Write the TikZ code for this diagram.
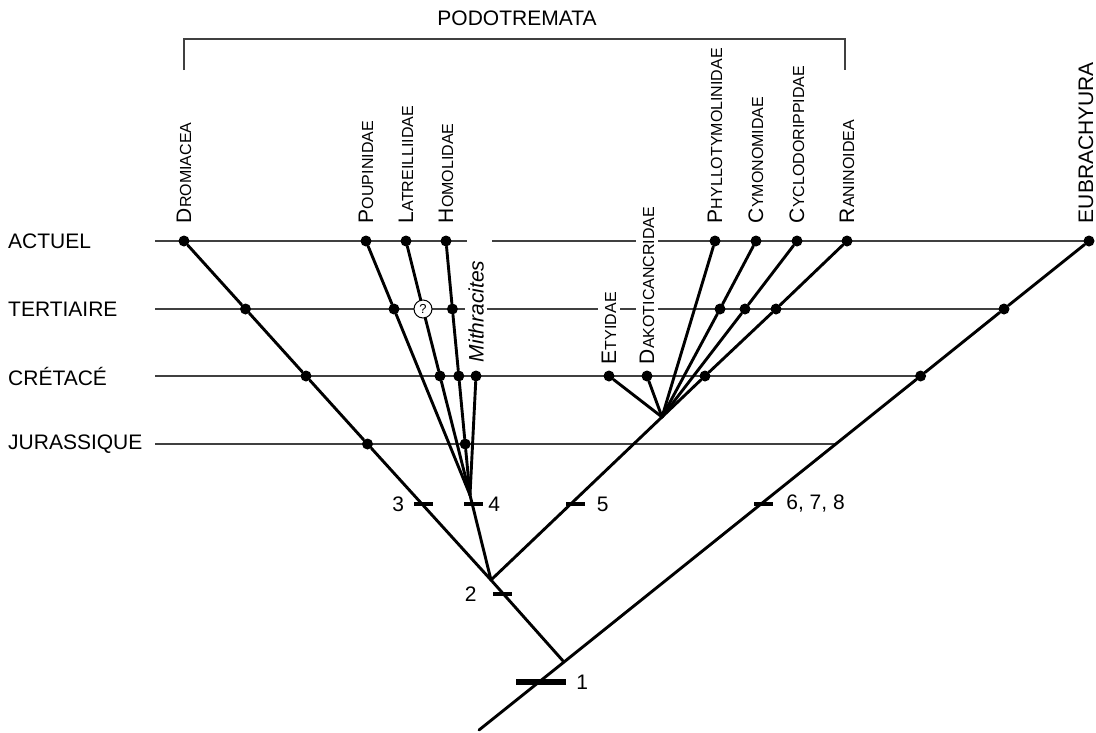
\documentclass[tikz,border=0pt]{standalone}
\usepackage{fontspec}
\setmainfont{Liberation Sans}
\usetikzlibrary{positioning}

% first letter large, the rest as small capitals
\newcommand{\capsc}[2]{{\fontsize{21}{25}\selectfont #1}{\fontsize{16}{19}\selectfont #2}}

\begin{document}
\begin{tikzpicture}[x=1pt,y=-1pt,
  branch/.style={line width=2.9pt, line cap=round},
  epoch/.style={line width=1.4pt, black!75},
  dot/.style={circle, fill, inner sep=0pt, minimum size=11pt},
  query/.style={circle, draw, fill=white, inner sep=0pt, minimum size=18pt, line width=1pt, font=\fontsize{13}{15}\selectfont},
  taxon/.style={rotate=90, anchor=west, inner sep=1pt},
  bar/.style={fill, inner sep=0pt, minimum width=19pt, minimum height=4.5pt},
  num/.style={inner sep=0pt, font=\fontsize{21}{25}\selectfont},
  period/.style={anchor=west, inner sep=0pt, font=\fontsize{21}{25}\selectfont}]

  \useasboundingbox (0,0) rectangle (1096,732);

  % Draw the time levels
  \node[period] (act) at (8,241) {ACTUEL};
  \node[period] (ter) at (8,309) {TERTIAIRE};
  \node[period] (cre) at (8,376) {CRÉTACÉ};
  \node[period] (jur) at (8,444) {JURASSIQUE};
  \draw[epoch] (155,241) -- (467,241);
  \draw[epoch] (492,241) -- (1089,241);
  \draw[epoch] (155,309) -- (1004,309);
  \draw[epoch] (155,376) -- (920,376);
  \draw[epoch] (155,444) -- (836,444);

  % Draw the bracket
  \node[font=\fontsize{21}{25}\selectfont] (podo) at (517,18) {PODOTREMATA};
  \draw[epoch] (184,70) |- (845,39) -- (845,70);

  % Define the branching points
  \coordinate (base) at (479,730);
  \coordinate (n1) at (564,662);
  \coordinate (n2) at (491,580);
  \coordinate (hom) at (470,495);
  \coordinate (fan) at (662,417);

  % Draw the points
  \node[dot] (dro-a) at (184,241) {};
  \node[dot] (dro-t) at (245.5,309) {};
  \node[dot] (dro-c) at (306,376) {};
  \node[dot] (dro-j) at (367.5,444) {};
  \node[dot] (pou-a) at (366,241) {};
  \node[dot] (pou-t) at (394,309) {};
  \node[dot] (lat-a) at (406,241) {};
  \node[query] (lat-q) at (423,309) {?};
  \node[dot] (lat-c) at (440,376) {};
  \node[dot] (hmd-a) at (446,241) {};
  \node[dot] (hmd-t) at (452.4,309) {};
  \node[dot] (hmd-c) at (458.8,376) {};
  \node[dot] (hmd-j) at (465.2,444) {};
  \node[dot] (mit-c) at (476,376) {};
  \node[dot] (ety-c) at (609,376) {};
  \node[dot] (dak-c) at (647,376) {};
  \node[dot] (phy-a) at (715,241) {};
  \node[dot] (cym-a) at (756,241) {};
  \node[dot] (cym-t) at (720,309) {};
  \node[dot] (cyc-a) at (797,241) {};
  \node[dot] (cyc-t) at (745,309) {};
  \node[dot] (ran-a) at (847,241) {};
  \node[dot] (ran-t) at (776,309) {};
  \node[dot] (ran-c) at (705,376) {};
  \node[dot] (eub-a) at (1089,241) {};
  \node[dot] (eub-t) at (1004,309) {};
  \node[dot] (eub-c) at (920.6,376) {};

  % Draw the branches
  \draw[branch] (base) -- (n1) -- (eub-c) -- (eub-t) -- (eub-a);
  \draw[branch] (n1) -- (n2) -- (dro-j) -- (dro-c) -- (dro-t) -- (dro-a);
  \draw[branch] (n2) -- (fan) -- (ran-c) -- (ran-t) -- (ran-a);
  \draw[branch] (n2) -- (hom);
  \draw[branch] (hom) -- (pou-t) -- (pou-a);
  \draw[branch] (hom) -- (lat-c) -- (lat-q) -- (lat-a);
  \draw[branch] (hom) -- (hmd-j) -- (hmd-c) -- (hmd-t) -- (hmd-a);
  \draw[branch] (hom) -- (mit-c);
  \draw[branch] (fan) -- (ety-c);
  \draw[branch] (fan) -- (dak-c);
  \draw[branch] (fan) -- (phy-a);
  \draw[branch] (fan) -- (cym-t) -- (cym-a);
  \draw[branch] (fan) -- (cyc-t) -- (cyc-a);

  % Draw the taxon names
  \node[taxon] (dro) at ([yshift=11pt]dro-a.north) {\capsc{D}{ROMIACEA}};
  \node[taxon] (pou) at ([yshift=11pt]pou-a.north) {\capsc{P}{OUPINIDAE}};
  \node[taxon] (lat) at ([yshift=11pt]lat-a.north) {\capsc{L}{ATREILLIIDAE}};
  \node[taxon] (hmd) at ([yshift=11pt]hmd-a.north) {\capsc{H}{OMOLIDAE}};
  \node[taxon, fill=white, inner ysep=3pt] (mit) at ([yshift=7pt]mit-c.north) {\fontsize{21}{25}\selectfont\itshape Mithracites};
  \node[taxon, fill=white, inner ysep=4pt] (ety) at ([yshift=5pt]ety-c.north) {\capsc{E}{TYIDAE}};
  \node[taxon, fill=white, inner ysep=4pt] (dak) at ([yshift=5pt]dak-c.north) {\capsc{D}{AKOTICANCRIDAE}};
  \node[taxon] (phy) at ([yshift=11pt]phy-a.north) {\capsc{P}{HYLLOTYMOLINIDAE}};
  \node[taxon] (cym) at ([yshift=11pt]cym-a.north) {\capsc{C}{YMONOMIDAE}};
  \node[taxon] (cyc) at ([yshift=11pt]cyc-a.north) {\capsc{C}{YCLODORIPPIDAE}};
  \node[taxon] (ran) at ([yshift=11pt]ran-a.north) {\capsc{R}{ANINOIDEA}};
  \node[taxon, font=\fontsize{21}{25}\selectfont] (eub) at ([xshift=-3pt,yshift=11pt]eub-a.north) {EUBRACHYURA};

  % Draw the characters
  \node[bar, minimum width=50pt, minimum height=6.7pt] (b1) at (541,682) {};
  \node[bar] (b2) at (502.5,594) {};
  \node[bar] (b3) at (423,504) {};
  \node[bar] (b4) at (473.5,504) {};
  \node[bar] (b5) at (575,504) {};
  \node[bar] (b6) at (763.5,504) {};
  \node[num, right=10pt of b1] (l1) {1};
  \node[num, left=16pt of b2] (l2) {2};
  \node[num, left=9pt of b3] (l3) {3};
  \node[num, right=5pt of b4] (l4) {4};
  \node[num, right=12pt of b5] (l5) {5};
  \node[num, right=13pt of b6] (l6) {6, 7, 8};

\end{tikzpicture}
\end{document}
